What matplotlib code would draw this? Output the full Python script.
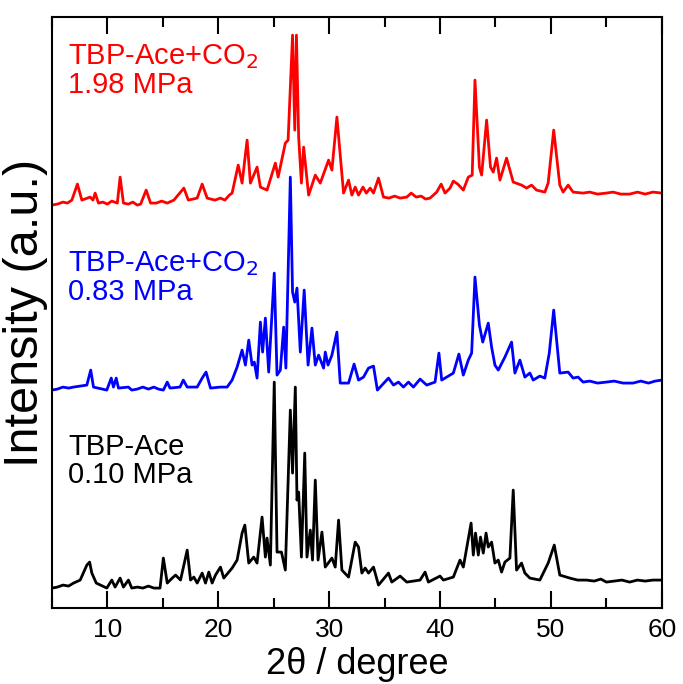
import numpy as np
import matplotlib.pyplot as plt

plt.rcParams['font.family'] = ['Liberation Sans', 'DejaVu Sans']

# TBP-Ace+CO2, 1.98 MPa (red, stacked intensities)
theta_red = [5.0, 5.5, 6.0, 6.4, 6.8, 7.3, 7.7, 8.45, 8.7, 8.9, 9.2, 9.6, 10.0, 10.4, 10.9,
             11.15, 11.45, 11.9, 12.3, 12.7, 13.0, 13.5, 13.9, 14.4, 14.9, 15.4,
             16.0, 16.9, 17.3, 18.1, 18.55, 19.0, 19.7, 20.2, 20.6, 21.0, 21.25, 21.8, 22.15,
             22.6, 22.9, 23.5, 23.8, 24.4, 25.15, 25.4, 26.05, 26.3, 26.7, 26.9, 27.05, 27.25,
             27.5, 27.7, 28.15, 28.75, 29.2, 29.95, 30.25, 30.7, 31.3, 31.75, 32.05, 32.35,
             32.65, 33.05, 33.35, 33.7, 34.0, 34.45, 34.9, 35.4, 35.9, 36.4, 37.0, 37.4, 37.85,
             38.3, 38.7, 39.1, 39.7, 40.1, 40.45, 40.9, 41.2, 41.6, 42.1, 42.55, 42.9, 43.15,
             43.55, 43.75, 44.2, 44.55, 44.8, 45.1, 45.4, 46.0, 46.6, 47.35, 47.8, 48.25, 48.7,
             49.45, 49.75, 50.25, 50.8, 51.1, 51.55, 52.0, 52.9, 53.5, 54.2, 55.0, 55.6, 56.3,
             57.1, 57.8, 58.5, 59.2, 60.0]
int_red = [403, 404, 406, 405, 408, 424, 408, 411, 408, 415, 405, 406, 404, 407, 405,
           431, 405, 404, 406, 403, 404, 418, 405, 405, 407, 405,
           408, 420, 408, 410, 424, 410, 408, 410, 408, 413, 415, 443, 425,
           468, 425, 441, 421, 418, 445, 431, 465, 468, 573, 478, 573, 471,
           425, 461, 413, 433, 425, 448, 438, 491, 415, 428, 413, 421,
           413, 421, 415, 420, 415, 430, 411, 410, 412, 410, 411, 415, 411,
           412, 409, 410, 416, 424, 415, 420, 427, 424, 418, 431, 433, 528,
           441, 433, 488, 441, 436, 450, 428, 450, 426, 423, 420, 423, 418,
           416, 425, 478, 423, 416, 423, 416, 415, 416, 414, 415, 416, 414,
           414, 416, 414, 416, 415]

# TBP-Ace+CO2, 0.83 MPa (blue)
theta_blue = [5.0, 5.5, 6.0, 6.5, 6.95, 8.15, 8.5, 8.75, 9.95, 10.35, 10.55, 10.8, 11.0, 11.9,
              12.2, 12.7, 13.2, 13.7, 14.2, 14.6, 15.05,
              15.4, 15.65, 16.55, 16.85, 17.2, 18.1, 18.55, 18.9, 19.3, 20.2, 20.8, 21.25,
              21.7, 22.15, 22.45, 22.75, 23.05, 23.25, 23.5, 23.8, 24.0, 24.25, 24.55, 25.05,
              25.3, 25.6, 25.9, 26.1, 26.5, 26.7, 26.9, 27.1, 27.4, 27.75, 28.1, 28.45, 28.75,
              29.05, 29.5, 29.65, 29.9, 30.25, 30.7, 31.0, 31.75, 32.25, 32.65, 33.1, 33.55,
              34.0, 34.35, 35.35, 35.8, 36.25, 36.7, 37.15, 37.6, 38.2, 38.8, 39.55, 39.9,
              40.15, 41.2, 41.7, 42.1, 42.55, 42.85, 43.15, 43.55, 43.85, 44.35, 44.65, 44.95,
              45.25, 45.85, 46.45, 46.75, 47.2, 47.65, 48.1, 48.4, 49.0, 49.45, 49.85, 50.25,
              50.8, 51.55, 52.0, 52.45, 52.9, 53.5, 54.2, 55.0, 55.7, 56.5, 57.4, 58.1, 58.8,
              59.4, 60.0]
int_blue = [218, 219, 221, 220, 221, 223, 238, 221, 218, 230, 221, 230, 220, 221,
            218, 219, 221, 219, 221, 219, 218,
            226, 220, 221, 228, 221, 221, 230, 236, 220, 221, 221, 228,
            241, 258, 243, 268, 243, 246, 230, 286, 256, 290, 236, 335,
            233, 238, 281, 240, 431, 316, 306, 320, 256, 318, 243, 280, 243,
            253, 240, 256, 243, 253, 276, 225, 225, 244, 228, 231, 240,
            242, 218, 230, 223, 226, 221, 226, 221, 229, 223, 226, 255,
            228, 235, 254, 233, 248, 255, 331, 283, 266, 285, 261, 243,
            238, 251, 266, 235, 248, 231, 235, 228, 232, 230, 255, 298,
            235, 236, 230, 231, 226, 227, 225, 226, 227, 225, 225, 227, 225,
            227, 228]

# TBP-Ace, 0.10 MPa (black)
theta_black = [5.0, 5.5, 6.0, 6.5, 6.95, 7.55, 8.15, 8.4, 8.6, 9.0, 9.95, 10.4, 10.7, 11.15,
               11.45, 11.9, 12.2, 12.7, 13.2, 13.7, 14.2, 14.75, 15.05, 15.4, 15.85, 16.15,
               16.6, 17.2, 17.5, 17.8, 18.1, 18.55,
               18.85, 19.15, 19.45, 19.75, 20.2, 20.5, 21.25, 21.7, 22.15, 22.4, 22.75, 23.2,
               23.5, 23.95, 24.25, 24.4, 24.7, 25.05, 25.3, 25.7, 26.05, 26.5, 26.7, 26.95,
               27.1, 27.25, 27.5, 27.8, 28.0, 28.3, 28.5, 28.75, 29.0, 29.35, 29.65, 30.25,
               30.55, 30.85, 31.15, 31.75, 32.35, 32.65, 32.95, 33.25, 33.55, 34.0, 34.45,
               35.35, 35.65, 36.4, 37.0, 38.2, 38.65, 38.95, 40.0, 40.3, 41.2, 41.8, 42.1,
               42.8, 43.0, 43.2, 43.45, 43.65, 43.9, 44.15, 44.35, 44.65, 44.95, 45.25, 45.55,
               45.85, 46.3, 46.6, 46.9, 47.35, 47.65, 48.1, 49.0, 49.75, 50.3, 50.8, 51.7,
               52.4, 53.2, 53.9, 54.5, 55.0, 55.7, 56.4, 57.1, 57.8, 58.5, 59.2, 60.0]
int_black = [20, 21, 23, 22, 25, 28, 43, 46, 35, 25, 20, 28, 21, 30,
             21, 28, 20, 21, 20, 22, 20, 20, 50, 25, 30, 33,
             28, 58, 28, 31, 25, 35,
             25, 36, 25, 33, 41, 30, 40, 48, 75, 83, 45, 51,
             45, 91, 51, 70, 43, 226, 56, 56, 38, 198, 135, 221,
             108, 116, 51, 155, 51, 78, 48, 128, 48, 76, 41, 50,
             41, 88, 38, 31, 66, 61, 35, 40, 35, 41, 23,
             35, 26, 32, 26, 28, 36, 26, 32, 28, 31, 48, 41,
             85, 53, 75, 53, 71, 55, 75, 61, 66, 45, 48, 36,
             46, 50, 118, 38, 45, 35, 30, 28, 45, 63, 33, 30,
             28, 28, 27, 29, 26, 27, 28, 26, 28, 27, 28, 28]

fig, ax = plt.subplots(figsize=(6.83, 6.84), dpi=100)
fig.subplots_adjust(left=0.076, right=0.969, bottom=0.111, top=0.975)

ax.plot(theta_black, int_black, color='black', lw=2.0)
ax.plot(theta_blue, int_blue, color='#0000ff', lw=2.0)
ax.plot(theta_red, int_red, color='#ff0000', lw=2.0)

ax.set_xlim(5, 60)
ax.set_ylim(0, 591)
ax.set_xticks([10, 20, 30, 40, 50, 60])
ax.set_xticks([5, 15, 25, 35, 45, 55], minor=True)
ax.set_yticks([])
ax.tick_params(axis='x', which='both', direction='in', top=True, width=1.5, labelsize=19, pad=7)
ax.tick_params(axis='x', which='major', length=12)
ax.tick_params(axis='x', which='minor', length=7.5)
for s in ax.spines.values():
    s.set_linewidth(1.5)

ax.set_xlabel('2θ / degree', fontsize=26, labelpad=4)
ax.set_ylabel('Intensity (a.u.)', fontsize=35, labelpad=3)

ax.text(0.027, 0.958, 'TBP-Ace+CO$_2$\n1.98 MPa', transform=ax.transAxes, color='#ff0000',
        fontsize=21, va='top', ha='left', linespacing=1.0)
ax.text(0.027, 0.608, 'TBP-Ace+CO$_2$\n0.83 MPa', transform=ax.transAxes, color='#0000ff',
        fontsize=21, va='top', ha='left', linespacing=1.0)
ax.text(0.027, 0.296, 'TBP-Ace\n0.10 MPa', transform=ax.transAxes, color='black',
        fontsize=21, va='top', ha='left', linespacing=1.0)

fig.savefig('out.png', dpi=100)
